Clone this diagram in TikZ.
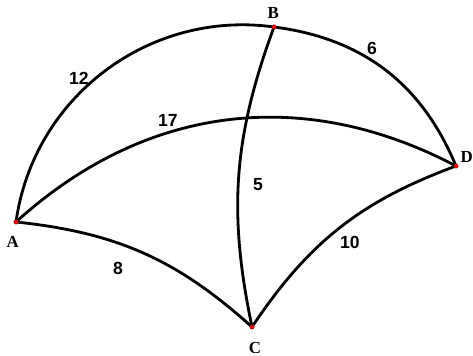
\documentclass[tikz,border=0pt]{standalone}
\usepackage{fontspec}
\setmainfont{Liberation Serif}
\setsansfont{Liberation Sans}
\usepackage{tikz}
\usetikzlibrary{positioning}

\begin{document}
\begin{tikzpicture}[
    edge/.style={line width=2pt, black},
    vdot/.style={circle, fill=red, draw=red!50!black, line width=0.2pt,
                 inner sep=0pt, minimum size=3.2pt},
    vname/.style={font=\bfseries\large, inner sep=1pt},
    wt/.style={font=\sffamily\bfseries\fontsize{12.5}{14}\selectfont, inner sep=1pt}
  ]
  \useasboundingbox (0,0) rectangle (11.825,8.9);

  % ══ VERTICES ══════════════════════════════════════════════════════════════
  \coordinate (A) at (0.4, 3.35);
  \coordinate (B) at (6.85, 8.225);
  \coordinate (C) at (6.3, 0.725);
  \coordinate (D) at (11.4, 4.75);

  % ══ EDGES ═════════════════════════════════════════════════════════════════
  \draw[edge] (A) to[bend left=45] (B);
  \draw[edge] (B) to[bend left=30] (D);
  \draw[edge] (A) to[bend left=35] (D);
  \draw[edge] (B) to[bend right=16] (C);
  \draw[edge] (A) to[bend left=18] (C);
  \draw[edge] (C) to[bend left=18] (D);

  % dots on top
  \foreach \v in {A,B,C,D}
    \node[vdot] (dot\v) at (\v) {};

  % vertex names
  \node[vname] (nA) at (0.32, 2.86) {A};
  \node[vname] (nB) at (6.83, 8.57) {B};
  \node[vname] (nC) at (6.375, 0.21) {C};
  \node[vname] (nD) at (11.67, 4.98) {D};

  % ══ WEIGHTS ═══════════════════════════════════════════════════════════════
  \node[wt] (wAB) at (1.97, 6.95) {12};
  \node[wt] (wBD) at (9.3, 7.7) {6};
  \node[wt] (wAD) at (4.2, 5.9) {17};
  \node[wt] (wBC) at (6.45, 4.275) {5};
  \node[wt] (wCD) at (8.75, 2.85) {10};
  \node[wt] (wAC) at (2.95, 2.2) {8};

\end{tikzpicture}
\end{document}
